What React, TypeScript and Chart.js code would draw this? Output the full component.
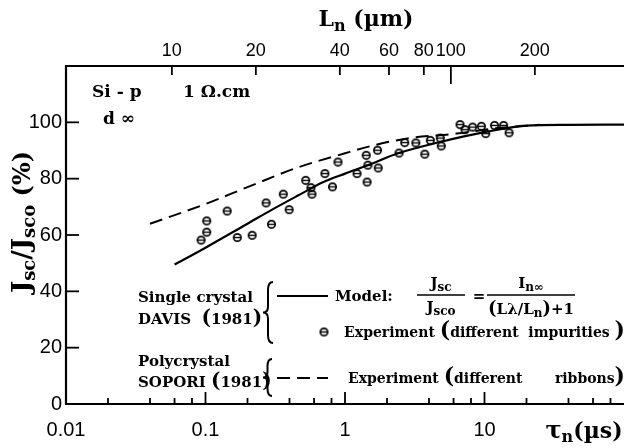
import React, { useEffect, useRef } from 'react';
import { Chart, registerables } from 'chart.js';

Chart.register(...registerables);

// ---- data ----
const tauModel = [0.06, 0.1, 0.2, 0.3, 0.46, 0.7, 1.0, 1.5, 2.4, 4.8, 10, 20, 40, 100];
const jModel = [49.5, 55.5, 64, 69, 74, 78.8, 81.8, 85, 89, 93, 96.5, 98.8, 99.1, 99.2];

const tauRibbon = [0.04, 0.1, 0.2, 0.46, 1.0, 1.6, 2.8, 6.3, 12, 18, 25];
const jRibbon = [64, 71, 77, 84, 89, 91.8, 94.3, 96, 97.9, 98.6, 99.1];

const tauExp = [0.093, 0.102, 0.102, 0.143, 0.169, 0.216, 0.272, 0.297, 0.361, 0.398, 0.523, 0.57, 0.58,
  0.718, 0.813, 0.89, 1.22, 1.42, 1.46, 1.44, 1.71, 1.73, 2.44, 2.68, 3.22, 3.73, 4.09, 4.82, 4.9,
  6.68, 7.25, 8.22, 9.5, 10.2, 11.8, 13.7, 15];
const jExp = [58.2, 61, 65, 68.5, 59.1, 59.9, 71.4, 63.8, 74.5, 69, 79.4, 76.8, 74.5,
  81.8, 77.1, 85.9, 81.8, 88.3, 84.8, 78.8, 90.1, 83.8, 89.1, 92.8, 92.7, 88.7, 93.6, 94.4, 91.6,
  99.2, 97.4, 98.3, 98.6, 96, 98.9, 98.9, 96.3];

// ---- axis ticks ----
const X_TICKS = [0.01, 0.1, 1, 10];
const X_TICK_LABELS = ['0.01', '0.1', '1', '10'];
const X_MINOR = [0.02, 0.04, 0.06, 0.08, 0.2, 0.4, 0.6, 0.8, 2, 4, 6, 8, 20, 40, 60, 80];
const TOP_TICKS = [10, 20, 40, 60, 80, 100, 200];
const TOP_TICK_LABELS = ['10', '20', '40', '60', '80', '100', '200'];
const Y_TICKS = [0, 20, 40, 60, 80, 100];
const Y_TICK_LABELS = ['0', '20', '40', '60', '80', '100'];

// Ln = L_REF * sqrt(tau / TAU_REF)
const L_REF = 10;
const TAU_REF = 0.0574;
const X_MIN = 0.01;
const X_MAX = 100;
const LN_MIN = L_REF * Math.sqrt(X_MIN / TAU_REF);
const LN_MAX = L_REF * Math.sqrt(X_MAX / TAU_REF);

const SERIF = '"DejaVu Serif", "Liberation Serif", serif';
const SANS = '"Liberation Sans", Arial, sans-serif';

type Seg = { t: string; s: number; dy?: number; w?: string; fam?: string };

function setFont(ctx: CanvasRenderingContext2D, seg: Seg) {
  ctx.font = `${seg.w ?? 'bold'} ${seg.s}px ${seg.fam ?? SERIF}`;
}
function richWidth(ctx: CanvasRenderingContext2D, segs: Seg[]) {
  let w = 0;
  for (const sg of segs) { setFont(ctx, sg); w += ctx.measureText(sg.t).width; }
  return w;
}
function drawRich(ctx: CanvasRenderingContext2D, x: number, y: number, segs: Seg[], align: 'left' | 'center' | 'right' = 'left') {
  const w = richWidth(ctx, segs);
  let cx = align === 'left' ? x : align === 'center' ? x - w / 2 : x - w;
  ctx.textAlign = 'left';
  ctx.textBaseline = 'alphabetic';
  for (const sg of segs) {
    setFont(ctx, sg);
    ctx.fillText(sg.t, cx, y + (sg.dy ?? 0));
    cx += ctx.measureText(sg.t).width;
  }
  return w;
}
function line(ctx: CanvasRenderingContext2D, x1: number, y1: number, x2: number, y2: number) {
  ctx.beginPath(); ctx.moveTo(x1, y1); ctx.lineTo(x2, y2); ctx.stroke();
}
function brace(ctx: CanvasRenderingContext2D, x: number, yTop: number, yBot: number, w: number) {
  const mid = (yTop + yBot) / 2;
  const xm = x + w / 2;
  ctx.beginPath();
  ctx.moveTo(x + w, yTop);
  ctx.quadraticCurveTo(xm, yTop, xm, yTop + w * 0.8);
  ctx.lineTo(xm, mid - w * 0.6);
  ctx.quadraticCurveTo(xm, mid, x, mid);
  ctx.quadraticCurveTo(xm, mid, xm, mid + w * 0.6);
  ctx.lineTo(xm, yBot - w * 0.8);
  ctx.quadraticCurveTo(xm, yBot, x + w, yBot);
  ctx.stroke();
}

function makeMarker(): HTMLCanvasElement {
  const c = document.createElement('canvas');
  c.width = 11; c.height = 11;
  const g = c.getContext('2d')!;
  g.strokeStyle = '#000';
  g.lineWidth = 1.7;
  g.beginPath(); g.arc(5.5, 5.5, 3.7, 0, Math.PI * 2); g.stroke();
  g.lineWidth = 1.4;
  g.beginPath(); g.moveTo(1.8, 5.5); g.lineTo(9.2, 5.5); g.stroke();
  return c;
}

let markerCanvas: HTMLCanvasElement | null = null;

const decorPlugin = {
  id: 'decor',
  beforeDraw(chart: any) {
    const ctx = chart.ctx as CanvasRenderingContext2D;
    ctx.save();
    ctx.fillStyle = '#fff';
    ctx.fillRect(0, 0, chart.width, chart.height);
    ctx.restore();
  },
  afterDraw(chart: any) {
    const ctx = chart.ctx as CanvasRenderingContext2D;
    const { left, right, top, bottom } = chart.chartArea;
    const xs = chart.scales.x, ys = chart.scales.y, ts = chart.scales.top;
    ctx.save();
    ctx.strokeStyle = '#000';
    ctx.fillStyle = '#000';
    ctx.lineCap = 'butt';
    // axes
    ctx.lineWidth = 2.2;
    line(ctx, left, bottom, right, bottom);
    line(ctx, left, top, right, top);
    line(ctx, left, top - 1, left, bottom + 1);
    // ticks (inward)
    ctx.lineWidth = 1.8;
    for (const v of X_TICKS) { const p = xs.getPixelForValue(v); if (p > left + 2) line(ctx, p, bottom, p, bottom - 12); }
    for (const v of X_MINOR) { const p = xs.getPixelForValue(v); line(ctx, p, bottom, p, bottom - 6); }
    for (const v of TOP_TICKS) { const p = ts.getPixelForValue(v); line(ctx, p, top, p, top + (v === 100 ? 18 : 9)); }
    for (const v of Y_TICKS) { const p = ys.getPixelForValue(v); line(ctx, left, p, left + 13, p); }

    // axis titles
    drawRich(ctx, 366, 26, [{ t: 'L', s: 22 }, { t: 'n', s: 16, dy: 5 }, { t: ' (\u00b5m)', s: 22 }], 'center');
    drawRich(ctx, 584, 438, [{ t: '\u03c4', s: 24 }, { t: 'n', s: 16, dy: 4 }, { t: '(\u00b5s)', s: 22 }], 'center');
    ctx.save();
    ctx.translate(30, 222);
    ctx.rotate(-Math.PI / 2);
    drawRich(ctx, 0, 0, [
      { t: 'J', s: 26 }, { t: 'sc', s: 18, dy: 5 }, { t: '/', s: 26 },
      { t: 'J', s: 26 }, { t: 'sco', s: 18, dy: 5 }, { t: ' (%)', s: 24 },
    ], 'center');
    ctx.restore();

    // sample info
    drawRich(ctx, 92, 97, [{ t: 'Si - p', s: 17 }]);
    drawRich(ctx, 183, 97, [{ t: '1 \u03a9.cm', s: 17 }]);
    drawRich(ctx, 103, 124, [{ t: 'd \u221e', s: 17 }]);

    // legend block
    const fs = 15;
    const fr = 14;
    drawRich(ctx, 138, 302, [{ t: 'Single crystal', s: fs }]);
    drawRich(ctx, 138, 324, [{ t: 'DAVIS  ', s: fs }, { t: '(', s: 20 }, { t: '1981', s: fs }, { t: ')', s: 20 }]);
    ctx.lineWidth = 2;
    brace(ctx, 263, 282, 343, 10);
    line(ctx, 277, 296, 328, 296);
    drawRich(ctx, 335, 301, [{ t: 'Model:', s: fs }]);
    // fraction Jsc/Jsco
    const f1 = 441;
    drawRich(ctx, f1, 288, [{ t: 'J', s: fs }, { t: 'sc', s: 12, dy: 3 }], 'center');
    ctx.lineWidth = 1.5;
    line(ctx, f1 - 24, 295, f1 + 24, 295);
    drawRich(ctx, f1, 312, [{ t: 'J', s: fs }, { t: 'sco', s: 12, dy: 3 }], 'center');
    drawRich(ctx, 479, 301, [{ t: '=', s: fs }], 'center');
    const f2 = 531;
    drawRich(ctx, f2, 288, [{ t: 'I', s: fs }, { t: 'n\u221e', s: 12, dy: 3 }], 'center');
    line(ctx, f2 - 44, 295, f2 + 44, 295);
    drawRich(ctx, f2, 314, [
      { t: '(', s: 18 }, { t: 'L', s: fs }, { t: '\u03bb', s: fs }, { t: '/L', s: fs }, { t: 'n', s: 12, dy: 3 }, { t: ')', s: 18 }, { t: '+1', s: fs },
    ], 'center');

    ctx.drawImage(markerCanvas!, 324 - 5.5, 332 - 5.5);
    drawRich(ctx, 625, 337, [
      { t: 'Experiment ', s: fr }, { t: '(', s: 22 }, { t: 'different  impurities ', s: fr }, { t: ')', s: 22 },
    ], 'right');

    drawRich(ctx, 138, 366, [{ t: 'Polycrystal', s: fs }]);
    drawRich(ctx, 138, 387, [{ t: 'SOPORI ', s: fs }, { t: '(', s: 20 }, { t: '1981', s: fs }, { t: ')', s: 20 }]);
    ctx.lineWidth = 2;
    brace(ctx, 263, 359, 396, 9);
    ctx.setLineDash([13, 7]);
    line(ctx, 277, 378, 328, 378);
    ctx.setLineDash([]);
    drawRich(ctx, 348, 383, [{ t: 'Experiment ', s: fr }, { t: '(', s: 22 }, { t: 'different', s: fr }]);
    drawRich(ctx, 625, 383, [{ t: 'ribbons', s: fr }, { t: ')', s: 22 }], 'right');
    ctx.restore();
  },
};

export default function App() {
  const ref = useRef<HTMLCanvasElement>(null);
  useEffect(() => {
    if (!ref.current) return;
    markerCanvas = makeMarker();
    const tickFont = { family: SANS, size: 20 };
    const chart = new Chart(ref.current, {
      type: 'scatter',
      data: {
        datasets: [
          {
            type: 'line',
            data: tauModel.map((t, i) => ({ x: t, y: jModel[i] })),
            borderColor: '#000', borderWidth: 2.2, pointRadius: 0,
            cubicInterpolationMode: 'monotone', xAxisID: 'x', yAxisID: 'y',
          } as any,
          {
            type: 'line',
            data: tauRibbon.map((t, i) => ({ x: t, y: jRibbon[i] })),
            borderColor: '#000', borderWidth: 2, pointRadius: 0, borderDash: [13, 7],
            cubicInterpolationMode: 'monotone', xAxisID: 'x', yAxisID: 'y',
          } as any,
          {
            type: 'scatter',
            data: tauExp.map((t, i) => ({ x: t, y: jExp[i] })),
            pointStyle: markerCanvas, pointRadius: 5, xAxisID: 'x', yAxisID: 'y',
          } as any,
        ],
      },
      options: {
        animation: false,
        responsive: false,
        maintainAspectRatio: false,
        layout: { padding: 0 },
        plugins: { legend: { display: false }, tooltip: { enabled: false } },
        scales: {
          x: {
            type: 'logarithmic', position: 'bottom', min: X_MIN, max: X_MAX,
            grid: { display: false, drawTicks: false }, border: { display: false },
            ticks: {
              color: '#000', font: tickFont, padding: 14, maxRotation: 0, autoSkip: false,
              callback: (v: any) => { const i = X_TICKS.indexOf(Number(v)); return i >= 0 ? X_TICK_LABELS[i] : ''; },
            },
            afterBuildTicks: (s: any) => { s.ticks = X_TICKS.map((v) => ({ value: v })); },
            afterFit: (s: any) => { s.height = 44; },
          },
          top: {
            type: 'logarithmic', position: 'top', min: LN_MIN, max: LN_MAX,
            grid: { display: false, drawTicks: false }, border: { display: false },
            ticks: {
              color: '#000', font: { family: SANS, size: 18 }, padding: 4, maxRotation: 0, autoSkip: false,
              callback: (v: any) => { const i = TOP_TICKS.indexOf(Number(v)); return i >= 0 ? TOP_TICK_LABELS[i] : ''; },
            },
            afterBuildTicks: (s: any) => { s.ticks = TOP_TICKS.map((v) => ({ value: v })); },
            afterFit: (s: any) => { s.height = 66; },
          },
          y: {
            type: 'linear', position: 'left', min: 0, max: 120,
            grid: { display: false, drawTicks: false }, border: { display: false },
            ticks: {
              color: '#000', font: tickFont, padding: 4,
              callback: (v: any) => { const i = Y_TICKS.indexOf(Number(v)); return i >= 0 ? Y_TICK_LABELS[i] : ''; },
            },
            afterBuildTicks: (s: any) => { s.ticks = Y_TICKS.map((v) => ({ value: v })); },
            afterFit: (s: any) => { s.width = 66; },
          },
        },
      } as any,
      plugins: [decorPlugin],
    });
    return () => chart.destroy();
  }, []);
  return (
    <div style={{ position: 'absolute', left: 0, top: 0, width: 630, height: 448 }}>
      <canvas ref={ref} width={630} height={448} style={{ width: 630, height: 448, display: 'block' }} />
    </div>
  );
}
